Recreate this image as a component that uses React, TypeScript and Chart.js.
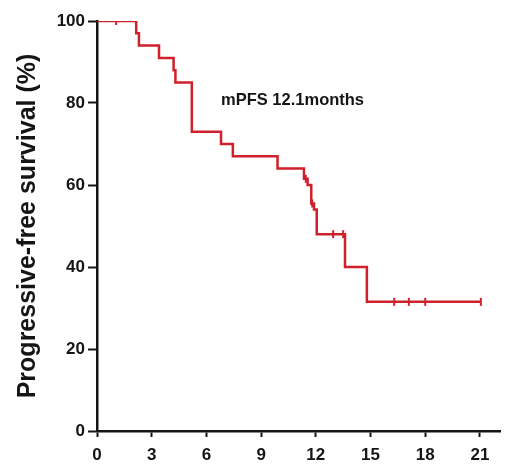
import React, { useEffect, useRef } from "react";
import { Chart, registerables } from "chart.js";

Chart.register(...registerables);

// Kaplan-Meier step points (months, % progression-free)
const TIMES = [0, 2.15, 2.3, 3.4, 4.2, 4.3, 5.2, 6.8, 7.45, 9.9, 11.35, 11.55, 11.75, 11.9, 12.05, 13.6, 14.8, 21.05];
const SURV = [100, 97, 94, 91, 88, 85, 73, 70, 67, 64, 61.5, 60, 55.5, 54, 48, 40, 31.5, 31.5];

// Censored observations
const CENSOR_TIMES = [1.05, 11.45, 11.8, 12.95, 13.5, 16.3, 17.1, 18.0, 21.05];
const CENSOR_SURV = [100, 61.5, 55.5, 48, 48, 31.5, 31.5, 31.5, 31.5];

const X_TICKS = [0, 3, 6, 9, 12, 15, 18, 21];
const Y_TICKS = [0, 20, 40, 60, 80, 100];

const Y_TITLE = "Progressive-free survival (%)";
const ANNOT_TEXT = "mPFS 12.1months";
const ANNOT_X = 6.8;
const ANNOT_Y = 80.5;

const RED = "#d0202b";
const INK = "#151515";
const FONT = "'Liberation Sans', Arial, sans-serif";

export default function App() {
  const ref = useRef<HTMLCanvasElement | null>(null);

  useEffect(() => {
    if (!ref.current) return;
    const annotPlugin = {
      id: "annot",
      afterDatasetsDraw(chart: any) {
        const ctx = chart.ctx;
        const x = chart.scales.x.getPixelForValue(ANNOT_X);
        const y = chart.scales.y.getPixelForValue(ANNOT_Y);
        ctx.save();
        ctx.font = `bold 16.5px ${FONT}`;
        ctx.fillStyle = INK;
        ctx.textAlign = "left";
        ctx.textBaseline = "middle";
        ctx.fillText(ANNOT_TEXT, x, y);
        ctx.restore();
      },
    };
    const chart = new Chart(ref.current, {
      type: "line",
      data: {
        datasets: [
          {
            data: TIMES.map((t, i) => ({ x: t, y: SURV[i] })),
            stepped: "before",
            borderColor: RED,
            borderWidth: 2.5,
            pointRadius: 0,
            fill: false,
          } as any,
          {
            data: CENSOR_TIMES.map((t, i) => ({ x: t, y: CENSOR_SURV[i] })),
            showLine: false,
            pointStyle: "line",
            rotation: 90,
            pointRadius: 4,
            borderColor: RED,
            borderWidth: 2,
          } as any,
        ],
      },
      plugins: [annotPlugin],
      options: {
        animation: false,
        responsive: false,
        maintainAspectRatio: false,
        events: [],
        layout: { padding: { top: 21, right: 0, left: 0, bottom: 0 } },
        plugins: { legend: { display: false }, tooltip: { enabled: false } },
        scales: {
          x: {
            type: "linear",
            min: 0,
            max: 22.1,
            afterBuildTicks: (s: any) => {
              s.ticks = X_TICKS.map((v) => ({ value: v }));
            },
            afterFit: (s: any) => {
              s.height = 40;
            },
            grid: {
              display: true,
              drawOnChartArea: false,
              drawTicks: true,
              tickLength: 6,
              tickWidth: 2,
              tickColor: INK,
            },
            border: { display: true, width: 2.5, color: INK },
            ticks: {
              color: INK,
              padding: 8,
              maxRotation: 0,
              font: { family: FONT, size: 17, weight: "bold" },
            },
          },
          y: {
            type: "linear",
            min: 0,
            max: 100,
            afterBuildTicks: (s: any) => {
              s.ticks = Y_TICKS.map((v) => ({ value: v }));
            },
            afterFit: (s: any) => {
              s.width = 97;
            },
            grid: {
              display: true,
              drawOnChartArea: false,
              drawTicks: true,
              tickLength: 9,
              tickWidth: 2,
              tickColor: INK,
            },
            border: { display: true, width: 2.5, color: INK },
            ticks: {
              color: INK,
              padding: 3,
              font: { family: FONT, size: 17, weight: "bold" },
            },
            title: {
              display: true,
              text: Y_TITLE,
              color: INK,
              padding: { top: 13, bottom: 0 },
              font: { family: FONT, size: 25, weight: "bold" },
            },
          },
        },
      } as any,
    });
    return () => chart.destroy();
  }, []);

  return (
    <div style={{ position: "absolute", left: 0, top: 0, width: 506, height: 471, background: "#fff" }}>
      <canvas ref={ref} width={506} height={471} style={{ width: 506, height: 471 }} />
    </div>
  );
}
